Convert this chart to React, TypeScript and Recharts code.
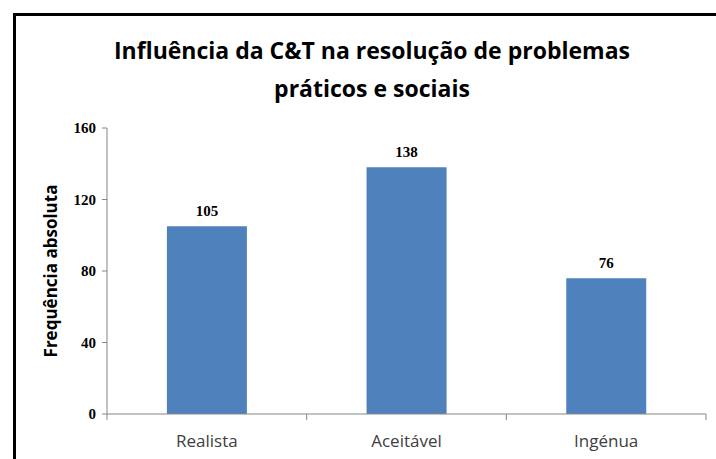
import { BarChart, Bar, XAxis, YAxis, LabelList } from 'recharts';

const categories = ['Realista', 'Aceitável', 'Ingénua'];
const frequencies = [105, 138, 76];
const yTicks = [0, 40, 80, 120, 160];

const chartData = categories.map((name, i) => ({ name, value: frequencies[i] }));

const AXIS = '#868686';
const W = 716;
const H = 459;
const MARGIN = { top: 128, right: 10, bottom: 15, left: 47 };
const Y_WIDTH = 60;
const halfBand = (W - MARGIN.left - MARGIN.right - Y_WIDTH) / categories.length / 2;

// category label plus Excel-style tick marks on the band edges
const CategoryTick = (props: any) => {
  const { x, y, payload, index } = props;
  const i = index ?? payload?.index ?? 0;
  return (
    <g>
      <line x1={x - halfBand} x2={x - halfBand} y1={y} y2={y + 6} stroke={AXIS} />
      {i === categories.length - 1 && (
        <line x1={x + halfBand} x2={x + halfBand} y1={y} y2={y + 6} stroke={AXIS} />
      )}
      <text x={x} y={y + 21} dy="0.71em" textAnchor="middle" fill="#404040" fontSize={17} fontFamily="Open Sans, sans-serif">
        {payload.value}
      </text>
    </g>
  );
};

export default function App() {
  return (
    <div style={{ position: 'absolute', left: 0, top: 0, width: W, height: H, overflow: 'hidden', background: '#fff' }}>
      {/* frame of the chart area, cut off on the right and bottom */}
      <div style={{ position: 'absolute', left: 13, top: 13, width: 800, height: 600, borderLeft: '3px solid #000', borderTop: '3px solid #000' }} />

      <div style={{ position: 'absolute', left: 0, top: 31, width: 744, textAlign: 'center', fontFamily: 'Open Sans, sans-serif', fontWeight: 700, fontSize: 23, lineHeight: '38px', color: '#000' }}>
        Influência da C&amp;T na resolução de problemas<br />práticos e sociais
      </div>

      <div style={{ position: 'absolute', left: 50, top: 271, transform: 'translate(-50%, -50%) rotate(-90deg)', whiteSpace: 'nowrap', fontFamily: 'Open Sans, sans-serif', fontWeight: 700, fontSize: 17, color: '#000' }}>
        Frequência absoluta
      </div>

      <BarChart
        width={W}
        height={H}
        data={chartData}
        margin={MARGIN}
        barCategoryGap="30%"
        style={{ position: 'absolute', left: 0, top: 0 }}
      >
        <XAxis
          dataKey="name"
          height={30}
          axisLine={{ stroke: AXIS }}
          tickLine={false}
          tickSize={0}
          tickMargin={0}
          interval={0}
          tick={CategoryTick}
        />
        <YAxis
          domain={[0, 160]}
          ticks={yTicks}
          width={Y_WIDTH}
          axisLine={{ stroke: AXIS }}
          tickLine={{ stroke: AXIS }}
          tickSize={5}
          tickMargin={6}
          tick={{ fill: '#000', fontSize: 15, fontWeight: 700, fontFamily: 'Liberation Serif, serif' }}
        />
        <Bar dataKey="value" fill="#4F81BD" isAnimationActive={false}>
          <LabelList
            dataKey="value"
            position="top"
            offset={10}
            style={{ fill: '#000', fontSize: 15, fontWeight: 700, fontFamily: 'Liberation Serif, serif' }}
          />
        </Bar>
      </BarChart>
    </div>
  );
}
